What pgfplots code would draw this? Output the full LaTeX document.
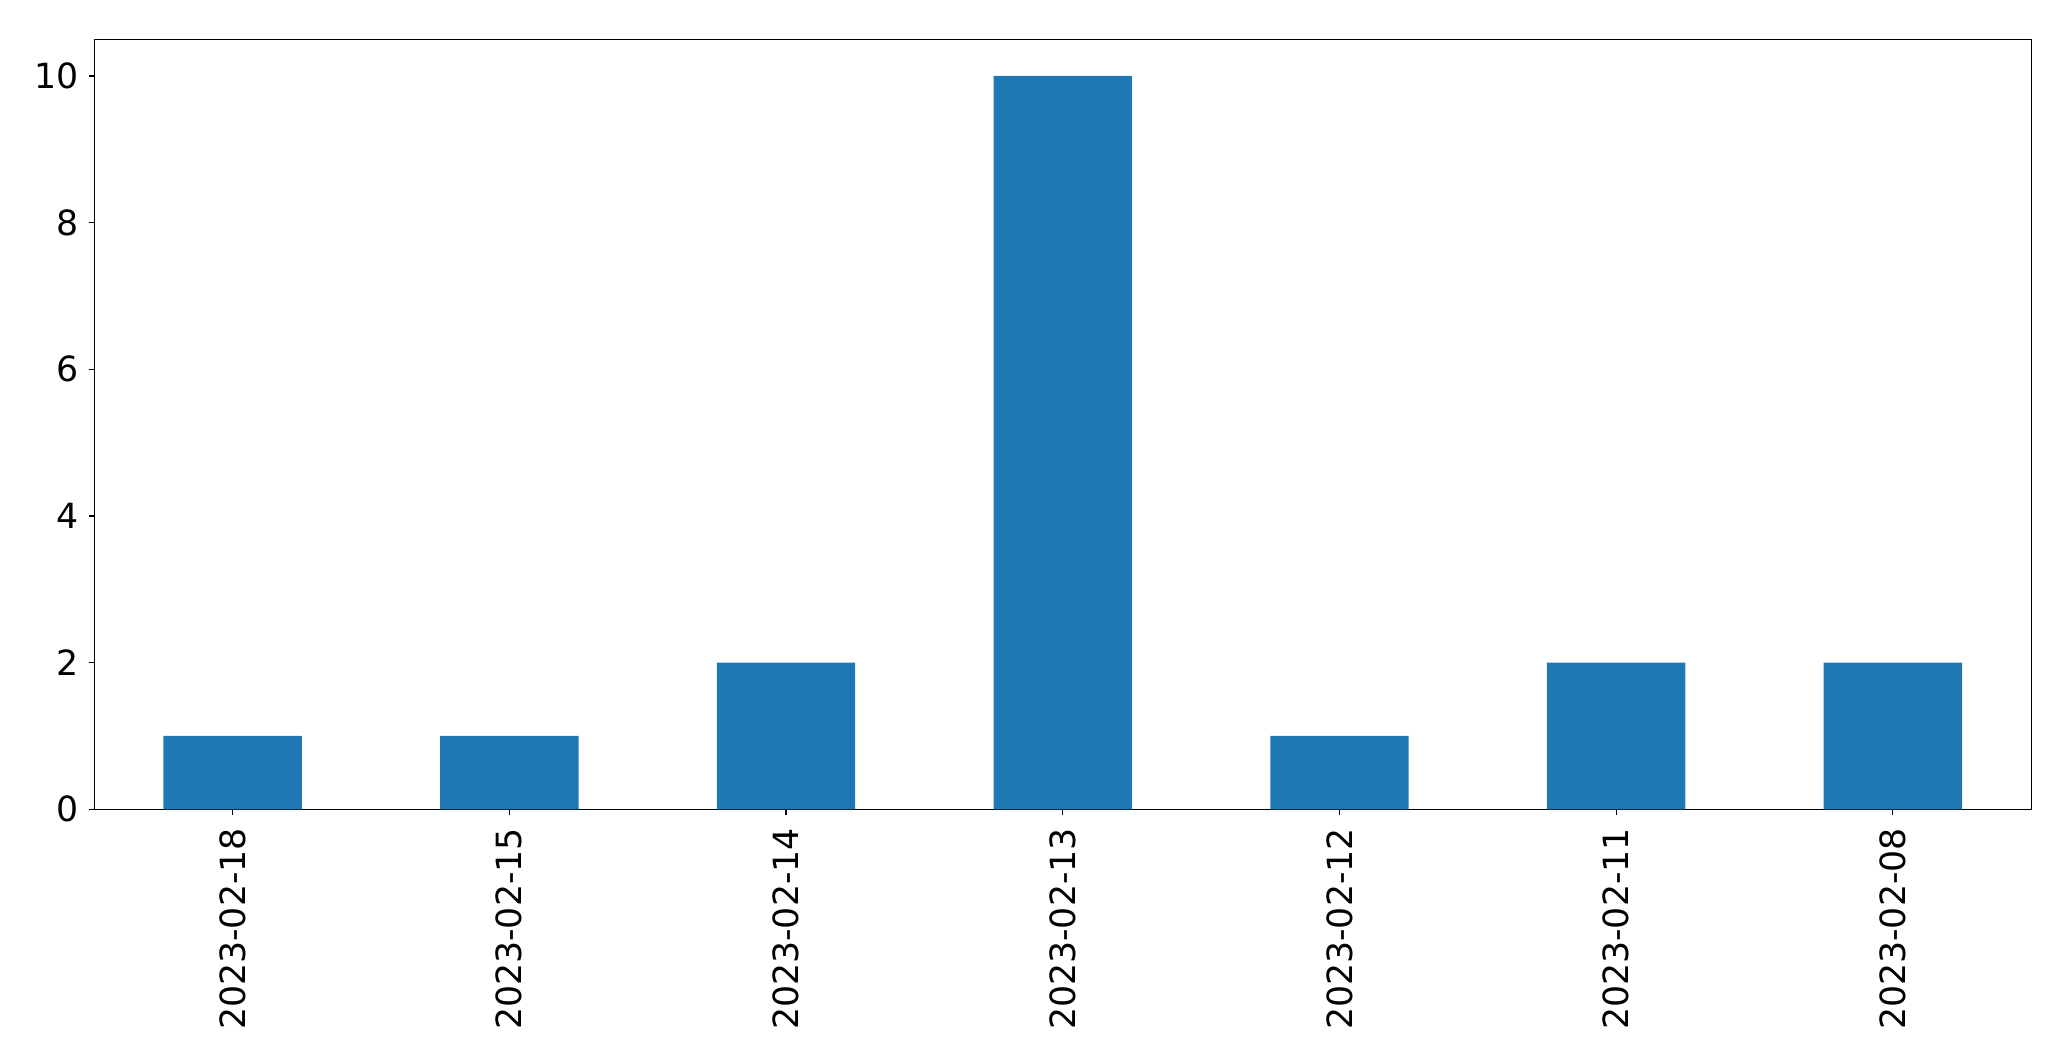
\documentclass[border=0pt]{standalone}
\usepackage{pgfplots}
\pgfplotsset{compat=1.18}
\usepackage{fontspec}
\setmainfont{DejaVu Sans}
\definecolor{mplblue}{HTML}{1F77B4}
\begin{document}
\begin{tikzpicture}
\useasboundingbox (-67.9pt,-181.2pt) rectangle (1394.6pt+28.6pt,554.4pt+28.3pt);
\begin{axis}[
  at={(0,0)}, anchor=south west,
  scale only axis,
  width=1394.6pt, height=554.4pt,
  xmin=-0.5, xmax=6.5, ymin=0, ymax=10.5,
  xtick={0,...,6},
  xticklabels={2023-02-18,2023-02-15,2023-02-14,2023-02-13,2023-02-12,2023-02-11,2023-02-08},
  x tick label style={rotate=90, anchor=east, font=\fontsize{25}{30}\selectfont},
  y tick label style={font=\fontsize{25}{30}\selectfont},
  ytick={0,2,4,6,8,10},
  /pgf/number format/assume math mode=true,
  tick align=outside,
  xtick pos=bottom, ytick pos=left,
  major tick length=4pt,
  axis line style={line width=0.8pt},
  every tick/.style={line width=0.8pt, black},
  xticklabel shift=6pt,
  yticklabel shift=4pt,
]
\addplot[ybar, bar width=0.5, fill=mplblue, draw=none] coordinates {
 (0,1) (1,1) (2,2) (3,10) (4,1) (5,2) (6,2)
};
\end{axis}
\end{tikzpicture}
\end{document}
